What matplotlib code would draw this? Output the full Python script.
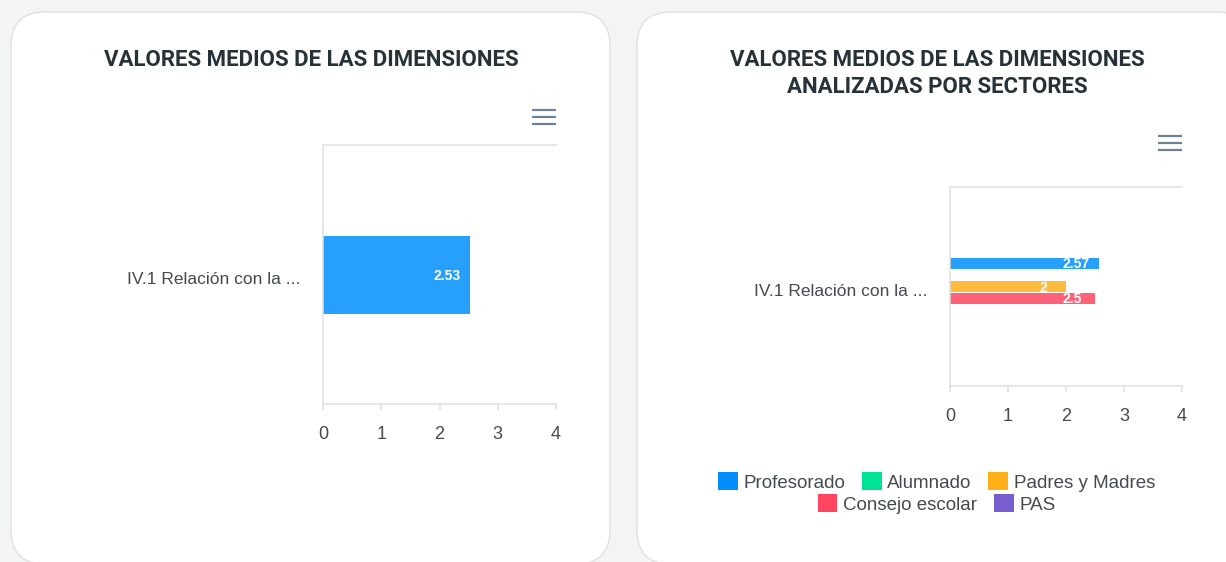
import matplotlib
matplotlib.use('Agg')
import matplotlib.pyplot as plt
import matplotlib.transforms as mtransforms
from matplotlib.patches import FancyBboxPatch, Patch

# ---------------- data ----------------
categories = ['IV.1 Relación con la ...']
overall_values = [2.53]
sectors = ['Profesorado', 'Alumnado', 'Padres y Madres', 'Consejo escolar', 'PAS']
sector_values = [2.57, None, 2.0, 2.5, None]
sector_colors = ['#008FFB', '#00E396', '#FEB019', '#FF4560', '#775DD0']
x_ticks = [0, 1, 2, 3, 4]
title_left = 'VALORES MEDIOS DE LAS DIMENSIONES'
title_right = ['VALORES MEDIOS DE LAS DIMENSIONES', 'ANALIZADAS POR SECTORES']

W, H = 1226, 562
PX = 72 / 100  # points per pixel
TXT = '#444a4d'
GRID = '#e0e0e0'
LBL_FONT = ['Liberation Sans', 'DejaVu Sans']

fig = plt.figure(figsize=(W / 100, H / 100), dpi=100, facecolor='#f3f4f6')

# background layer in pixel coordinates (cards, titles, menu icons)
bg = fig.add_axes([0, 0, 1, 1], zorder=-5)
bg.set_xlim(0, W)
bg.set_ylim(H, 0)
bg.axis('off')
for x0, x1 in [(11, 610), (637, 1250)]:
    bg.add_patch(FancyBboxPatch((x0, 12), x1 - x0, 552,
                                boxstyle='round,pad=0,rounding_size=34',
                                fc='white', ec='#e1e1e5', lw=1.0))

title_kw = dict(ha='center', va='center', family=['Roboto', 'DejaVu Sans'],
                fontweight='bold', fontsize=16, color='#263238')
bg.text(311, 60, title_left, **title_kw)
bg.text(937, 60, title_right[0], **title_kw)
bg.text(937, 87, title_right[1], **title_kw)

for (xa, xb, yc) in [(532, 556, 117), (1158, 1182, 143)]:
    for dy in (-7, 0, 7):
        bg.plot([xa, xb], [yc + dy, yc + dy], color='#6e8192', lw=2.2 * PX,
                solid_capstyle='butt')


def setup(ax):
    ax.set_facecolor('none')
    ax.set_xlim(0, 4)
    ax.set_ylim(0.5, -0.5)
    ax.set_xticks(x_ticks)
    ax.set_xticklabels([str(t) for t in x_ticks], family=LBL_FONT)
    ax.set_yticks(range(len(categories)))
    ax.set_yticklabels(categories, family=LBL_FONT)
    for s in ['top', 'left', 'bottom']:
        ax.spines[s].set_color(GRID)
        ax.spines[s].set_linewidth(1.5 * PX)
    ax.spines['right'].set_visible(False)
    ax.tick_params(axis='x', length=6 * PX, width=1.5 * PX, color=GRID,
                   labelsize=13, labelcolor=TXT, pad=11.5)
    ax.tick_params(axis='y', length=0, pad=16.5, labelsize=12.5, labelcolor=TXT)
    shift = mtransforms.ScaledTranslation(0, -3.5 / 100, fig.dpi_scale_trans)
    for lab in ax.get_yticklabels():
        lab.set_transform(lab.get_transform() + shift)


def label(ax, v, y):
    ax.annotate(f'{v:g}', xy=(v, y), xytext=(-23 * PX, -1 * PX),
                textcoords='offset points', ha='center', va='center',
                color='white', fontweight='bold', fontsize=10, family=LBL_FONT)


# ---------------- left chart ----------------
axL = fig.add_axes([323 / W, 1 - 404 / H, 233 / W, 259 / H])
setup(axL)
axL.barh(range(len(categories)), overall_values, height=78 / 259,
         color=sector_colors[0], alpha=0.85, linewidth=0)
for i, v in enumerate(overall_values):
    label(axL, v, i)

# ---------------- right chart ----------------
axR = fig.add_axes([950 / W, 1 - 386 / H, 232 / W, 199 / H])
setup(axR)
slot = 11.5 / 199
bh = 11 / 199
n = len(sectors)
for i, (name, v, c) in enumerate(zip(sectors, sector_values, sector_colors)):
    if v is None:
        continue
    y = 0 + (i - (n - 1) / 2) * slot
    axR.barh([y], [v], height=bh, color=c, alpha=0.85, linewidth=0)
    label(axR, v, y)

# ---------------- legend ----------------
handles = [Patch(facecolor=c, edgecolor='none', label=s)
           for s, c in zip(sectors, sector_colors)]
leg_kw = dict(loc='center', frameon=False, handlelength=1.05,
              handleheight=1.05, handletextpad=0.3, columnspacing=0.9,
              borderaxespad=0, borderpad=0, labelcolor=TXT,
              prop={'family': LBL_FONT, 'size': 13.5})
fig.legend(handles=handles[:3], ncol=3,
           bbox_to_anchor=(936.5 / W, 1 - 482 / H), **leg_kw)
fig.legend(handles=handles[3:], ncol=2,
           bbox_to_anchor=(936.5 / W, 1 - 504 / H), **leg_kw)

fig.savefig('out.png', dpi=100, facecolor=fig.get_facecolor())
